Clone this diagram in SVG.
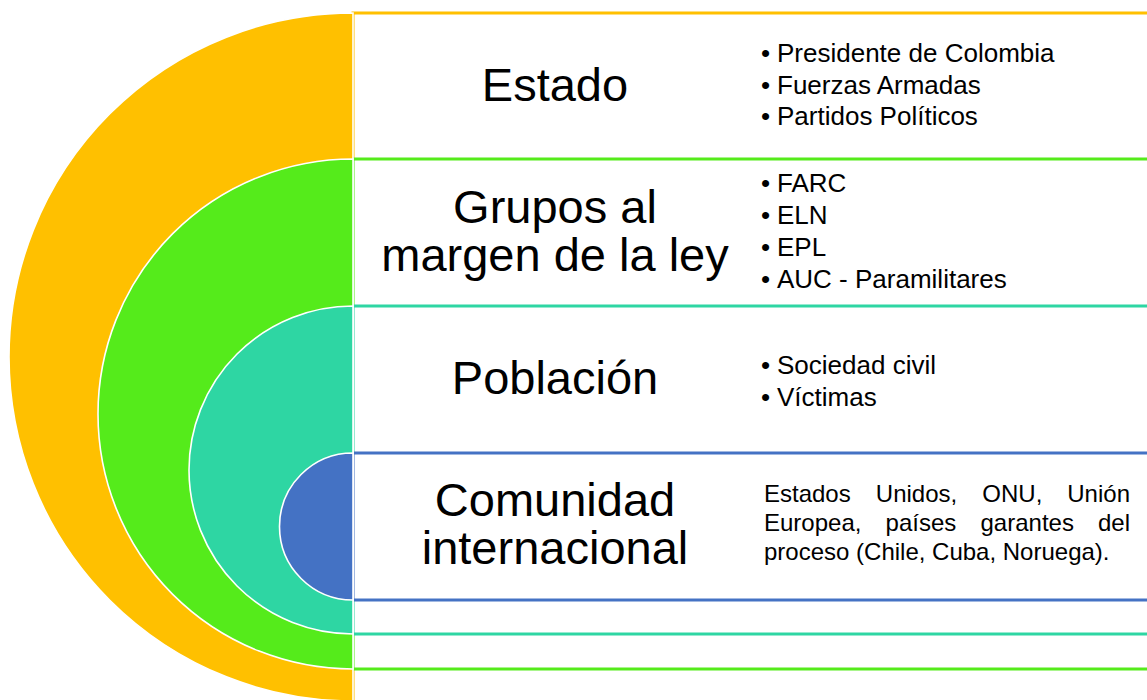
<svg xmlns="http://www.w3.org/2000/svg" width="1147" height="700" viewBox="0 0 1147 700">
<style>
.box{fill:#FFFFFF;stroke-width:3}
.disc{stroke:#FFFFFF;stroke-width:1.6}
.title{font-family:"Liberation Sans",Arial,sans-serif;font-size:47px;fill:#000;text-anchor:middle}
.item{font-family:"Liberation Sans",Arial,sans-serif;font-size:26px;fill:#000}
.para{font-family:"Liberation Sans",Arial,sans-serif;font-size:24px;fill:#000}
.end{text-anchor:end}
</style>
<rect width="1147" height="700" fill="#FFFFFF"/>
<g id="boxes">
<rect class="box" x="353" y="13" width="900" height="720" stroke="#FFC000"/>
<rect class="box" x="353" y="159" width="900" height="510" stroke="#55EB1B"/>
<rect class="box" x="353" y="306" width="900" height="328" stroke="#2ED6A3"/>
<rect class="box" x="353" y="453" width="900" height="147" stroke="#4472C4"/>
</g>
<g id="discs">
<path class="disc" d="M353 13 A344 344 0 0 0 353 701 Z" fill="#FFC000"/>
<path class="disc" d="M353 159 A255 255 0 0 0 353 669 Z" fill="#55EB1B"/>
<path class="disc" d="M353 306 A164 164 0 0 0 353 634 Z" fill="#2ED6A3"/>
<path class="disc" d="M353 453 A73.5 73.5 0 0 0 353 600 Z" fill="#4472C4"/>
</g>
<g id="estado">
<text class="title" x="555" y="101">Estado</text>
<text class="item" x="761" y="62">•</text><text class="item" x="777" y="62">Presidente de Colombia</text>
<text class="item" x="761" y="94">•</text><text class="item" x="777" y="94">Fuerzas Armadas</text>
<text class="item" x="761" y="125">•</text><text class="item" x="777" y="125">Partidos Políticos</text>
</g>
<g id="grupos">
<text class="title" x="555" y="223">Grupos al</text>
<text class="title" x="555" y="271">margen de la ley</text>
<text class="item" x="761" y="192">•</text><text class="item" x="777" y="192">FARC</text>
<text class="item" x="761" y="224">•</text><text class="item" x="777" y="224">ELN</text>
<text class="item" x="761" y="256">•</text><text class="item" x="777" y="256">EPL</text>
<text class="item" x="761" y="288">•</text><text class="item" x="777" y="288">AUC - Paramilitares</text>
</g>
<g id="poblacion">
<text class="title" x="555" y="394">Población</text>
<text class="item" x="761" y="374">•</text><text class="item" x="777" y="374">Sociedad civil</text>
<text class="item" x="761" y="406">•</text><text class="item" x="777" y="406">Víctimas</text>
</g>
<g id="comunidad">
<text class="title" x="555" y="516">Comunidad</text>
<text class="title" x="555" y="564">internacional</text>
<text class="para" y="502"><tspan x="764">Estados</tspan><tspan x="875.8">Unidos,</tspan><tspan x="982.3">ONU,</tspan></text>
<text class="para end" x="1130" y="502">Unión</text>
<text class="para" y="531"><tspan x="764">Europea,</tspan><tspan x="885.6">países</tspan><tspan x="980.5">garantes</tspan></text>
<text class="para end" x="1130" y="531">del</text>
<text class="para" x="764" y="560">proceso (Chile, Cuba, Noruega).</text>
</g>
</svg>
